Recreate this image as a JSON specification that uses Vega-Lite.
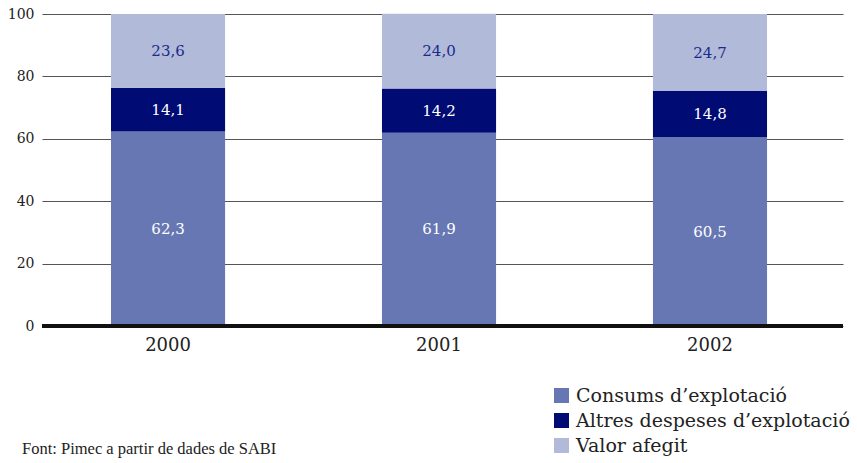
{
  "$schema": "https://vega.github.io/schema/vega-lite/v6.json",
  "width": 801,
  "height": 312,
  "autosize": {"type": "none"},
  "padding": {"left": 42, "top": 14, "right": 14, "bottom": 137},
  "background": "white",
  "config": {
    "view": {"stroke": null},
    "font": "DejaVu Serif",
    "locale": {"number": {"decimal": ",", "thousands": ".", "grouping": [3], "currency": ["", " €"]}}
  },
  "title": {
    "text": "Font: Pimec a partir de dades de SABI",
    "orient": "bottom",
    "anchor": "start",
    "frame": "group",
    "font": "Liberation Serif",
    "fontSize": 16.5,
    "fontWeight": "normal",
    "color": "#222222",
    "dx": -20,
    "offset": -15
  },
  "data": {
    "values": [
      {"year": "2000", "component": "Consums d’explotació", "ord": 1, "value": 62.3},
      {"year": "2000", "component": "Altres despeses d’explotació", "ord": 2, "value": 14.1},
      {"year": "2000", "component": "Valor afegit", "ord": 3, "value": 23.6},
      {"year": "2001", "component": "Consums d’explotació", "ord": 1, "value": 61.9},
      {"year": "2001", "component": "Altres despeses d’explotació", "ord": 2, "value": 14.2},
      {"year": "2001", "component": "Valor afegit", "ord": 3, "value": 24.0},
      {"year": "2002", "component": "Consums d’explotació", "ord": 1, "value": 60.5},
      {"year": "2002", "component": "Altres despeses d’explotació", "ord": 2, "value": 14.8},
      {"year": "2002", "component": "Valor afegit", "ord": 3, "value": 24.7}
    ]
  },
  "layer": [
    {
      "mark": {"type": "bar"},
      "encoding": {
        "x": {
          "field": "year", "type": "nominal",
          "scale": {"paddingInner": 0.579, "paddingOuter": 0.2675, "align": 0.476},
          "axis": {"title": null, "labelAngle": 0, "ticks": false, "domain": false, "labelFontSize": 18, "labelColor": "#222222", "labelPadding": 10, "labelFont": "DejaVu Serif"}
        },
        "y": {
          "field": "value", "type": "quantitative", "stack": "zero",
          "scale": {"domain": [0, 100], "nice": false},
          "axis": {"title": null, "values": [0, 20, 40, 60, 80, 100], "ticks": false, "domain": false, "grid": true, "gridColor": "#555555", "gridWidth": 1.2, "labelFontSize": 14, "labelColor": "#222222", "labelPadding": 8, "labelFont": "DejaVu Serif"}
        },
        "color": {
          "field": "component", "type": "nominal",
          "scale": {
            "domain": ["Consums d’explotació", "Altres despeses d’explotació", "Valor afegit"],
            "range": ["#6777b3", "#000c73", "#b1bad8"]
          },
          "legend": {
            "title": null,
            "orient": "none",
            "legendX": 510,
            "legendY": 372,
            "symbolType": "square",
            "symbolSize": 225,
            "symbolStrokeWidth": 0,
            "symbolOpacity": 1,
            "labelFontSize": 19,
            "labelFont": "DejaVu Serif",
            "labelColor": "#222222",
            "labelOffset": 5,
            "rowPadding": 5,
            "padding": 0,
            "labelLimit": 400
          }
        },
        "order": {"field": "ord", "type": "quantitative"}
      }
    },
    {
      "mark": {"type": "rule", "color": "#111111", "strokeWidth": 3},
      "encoding": {"y": {"datum": 0, "type": "quantitative"}}
    },
    {
      "transform": [
        {"stack": "value", "groupby": ["year"], "sort": [{"field": "ord"}], "as": ["v0", "v1"]},
        {"calculate": "(datum.v0 + datum.v1) / 2", "as": "mid"}
      ],
      "mark": {"type": "text", "fontSize": 15, "font": "DejaVu Serif", "baseline": "middle"},
      "encoding": {
        "x": {"field": "year", "type": "nominal"},
        "y": {"field": "mid", "type": "quantitative"},
        "text": {"field": "value", "type": "quantitative", "format": ".1f"},
        "color": {
          "condition": {"test": "datum.ord === 3", "value": "#1b2a8c"},
          "value": "#ffffff"
        }
      }
    }
  ]
}
